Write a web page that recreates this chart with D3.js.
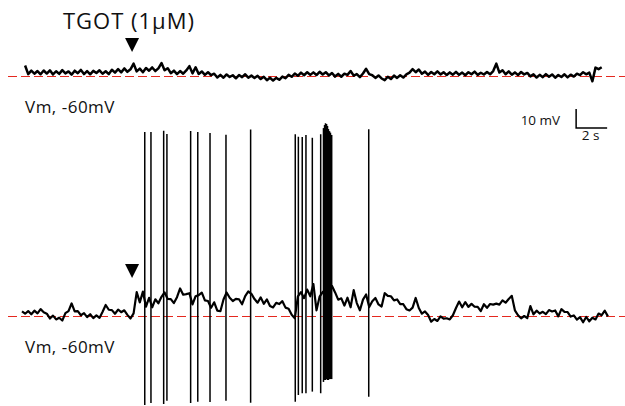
<!DOCTYPE html>
<html>
<head>
<meta charset="utf-8">
<script src="https://cdn.jsdelivr.net/npm/d3@7"></script>
<style>
  html, body { margin: 0; padding: 0; background: #fff; }
  #svg-container { width: 625px; height: 406px; }
  text { font-family: "Open Sans", "DejaVu Sans", sans-serif; fill: #111; }
</style>
</head>
<body>
<div id="svg-container"></div>
<script>
////////////////////////////////////////////////////////////////////
////////////////////////////  Data  ////////////////////////////////
const restVm = -60; // mV, red dashed reference
const dt = 0.2; // s between samples

// top trace (control): deviation from -60 mV, first sample at 0.2 s
const topStart = 0.2;
const topDev = [
  5.5, 1.0, 2.8, 1.2, 2.6, 0.9, 2.9, 1.3, 3.0, 0.8,
  2.5, 1.1, 3.1, 1.4, 2.4, 0.7, 2.8, 1.5, 3.2, 1.0,
  2.6, 0.9, 2.7, 1.6, 3.0, 1.2, 2.5, 1.0, 3.3, 1.8,
  3.6, 1.9, 4.0, 2.2, 3.5, 6.5, 2.4, 3.9, 2.0, 4.2,
  2.8, 4.5, 2.6, 4.0, 6.8, 3.0, 4.1, 1.5, 2.8, 1.0,
  2.6, 1.2, 2.9, 5.2, 1.4, 4.6, 1.1, 2.4, 0.6, 2.0,
  0.4, 1.2, -0.8, 0.6, -0.9, 0.8, -0.5, 0.4, -1.2, 0.5,
  -0.6, 0.9, -0.9, 0.2, -1.0, 0.1, -1.6, -0.4, -2.2, -0.9,
  -2.4, -1.0, -2.0, -0.3, -1.2, 0.6, -0.4, 1.3, 0.1, 1.8,
  0.4, 2.0, 0.6, 1.9, 0.5, 2.2, 0.8, 2.0, 0.3, 1.6,
  -0.3, 1.1, -0.4, 1.2, 0.6, 2.6, 0.2, 1.0, -0.6, 1.3,
  3.8, 1.0, 0.4, -1.0, 0.3, -1.3, -2.2, -0.4, -1.6, 0.2,
  -1.0, 0.4, -0.8, 0.9, 1.8, 3.6, 2.0, 3.4, 1.2, 2.3,
  0.6, 2.1, 0.9, 2.4, 0.8, 2.0, 0.5, 1.9, 0.7, 2.2,
  0.6, 1.8, 0.4, 2.0, 0.9, 2.3, 0.6, 1.7, 0.8, 2.1,
  0.9, 2.6, 6.5, 1.8, 3.0, 0.9, 2.4, 0.7, 1.9, 0.5,
  2.1, 0.8, 1.6, -0.2, 0.9, -0.8, 0.6, -0.6, 1.0, -0.4,
  0.8, -0.9, 0.5, -0.5, 0.9, -0.7, 0.7, -0.3, 1.2, 0.5,
  2.0, 0.9, 1.8, -2.8, 4.4, 3.6, 4.6
];

// bottom trace (TGOT): subthreshold deviation from -60 mV, first sample at 0 s
const botStart = 0;
const botDev = [
  2.4, 1.2, 2.6, 0.9, 2.8, 1.4, 3.6, 2.0, 1.2, -1.3,
  0.2, -1.8, -0.9, -2.4, 1.5, 2.6, 6.6, 2.4, 2.6, 0.4,
  1.5, -0.6, 0.9, -1.1, 0.3, -1.0, 2.2, 5.8, 3.3, 3.1,
  1.2, 3.4, 2.0, 3.0, 0.6, -1.3, 1.4, 12.6, 7.2, 12.8,
  4.9, 9.6, 4.6, 8.8, 6.7, 10.1, 12.4, 9.0, 8.9, 6.8,
  9.9, 14.5, 11.2, 11.5, 12.0, 6.1, 10.4, 11.0, 12.3, 8.2,
  7.9, 4.3, 7.2, 2.8, 2.5, 8.7, 12.4, 9.6, 7.9, 9.0,
  8.8, 6.2, 10.5, 12.9, 11.7, 8.9, 7.0, 9.8, 6.4, 8.7,
  5.3, 4.5, 6.9, 6.3, 7.8, 4.4, 3.8, 0.6, -1.2, 10.3,
  12.6, 9.4, 13.9, 10.4, 16.8, 3.0, 10.2, 12.6, 13.5, 11.8,
  15.8, 12.4, 8.6, 9.3, 5.5, 9.6, 4.6, 13.6, 6.8, 3.0,
  8.6, 11.3, 4.7, 7.8, 9.5, 6.1, 5.0, 12.0, 10.6, 10.4,
  8.2, 8.7, 6.3, 6.2, 3.6, 2.9, 4.4, 9.5, 4.2, 1.2,
  2.4, 0.5, -3.0, -1.6, -2.6, -0.2, -1.4, -1.2, -1.8, 0.4,
  4.2, 7.6, 4.6, 7.3, 4.8, 6.4, 4.9, 4.8, 2.6, 6.2,
  4.3, 6.3, 6.0, 6.5, 6.0, 8.2, 7.0, 8.9, 10.6, 3.0,
  0.4, -1.2, 0.0, -1.1, 5.2, 0.9, 2.8, 1.3, 2.2, 1.0,
  3.1, 2.4, 2.9, -0.2, 3.6, 2.2, 2.1, -0.3, 0.3, -1.9,
  -0.6, -3.3, -0.5, -2.8, -0.9, -1.8, 1.3, 0.4, 2.8, -0.2
];

// action potentials in the bottom trace: time (s), peak and trough (mV)
const spikeTimes = [
  7.92, 8.32, 9.14, 9.35, 10.88, 11.34, 12.13, 13.16, 14.75,
  17.63, 17.83, 18.08, 18.32, 18.73, 19.27,
  19.45, 19.52, 19.58, 19.65, 19.71, 19.77, 19.84, 19.90,
  19.98, 22.37
];
const spikePeaks = [
  36.8, 36.8, 37.5, 35.8, 37.4, 36.8, 36.3, 35.4, 38.1,
  35.6, 34.4, 34.2, 35.3, 33.8, 35.6,
  38.9, 40.5, 41.4, 41.1, 40.0, 38.4, 37.3, 36.5,
  35.3, 38.3
];
const spikeTroughs = [
  -106.8, -105.8, -106.3, -104.6, -105.8, -105.1, -105.3, -104.6, -105.6,
  -105.1, -101.6, -100.7, -100.7, -99.8, -100.7,
  -94.7, -93.7, -93.7, -93.2, -93.7, -93.7, -93.2, -93.2,
  -93.2, -102.5
];

const drugTime = 7.1; // s, TGOT application arrow
const scaleBarMv = 10;
const scaleBarS = 2;

////////////////////////////////////////////////////////////////////
////////////////////////////  Init  ////////////////////////////////
const svg = d3.select("#svg-container").append("svg")
  .attr("width", 625).attr("height", 406);

// scales: 2 s = 31 px, 10 mV = 19 px
const x = d3.scaleLinear().domain([0, 2]).range([22, 53]);
const yTop = d3.scaleLinear().domain([-60, -50]).range([76, 57]);
const yBot = d3.scaleLinear().domain([-60, -50]).range([316, 297]);

const traceLine = (yScale) => d3.line()
  .x((d) => x(d.t))
  .y((d) => yScale(d.v));

const toPoints = (devs, start) =>
  devs.map((d, i) => ({ t: start + i * dt, v: restVm + d }));

////////////////////////////////////////////////////////////////////
////////////////////////////  Draw  ////////////////////////////////
// reference lines at -60 mV (half pixel offset keeps them crisp)
[yTop, yBot].forEach((ys) => {
  svg.append("line")
    .attr("x1", 8).attr("x2", 625)
    .attr("y1", ys(restVm) + 0.5).attr("y2", ys(restVm) + 0.5)
    .attr("stroke", "#e5281f")
    .attr("stroke-width", 1)
    .attr("stroke-dasharray", "9,4");
});

// traces
svg.append("path")
  .datum(toPoints(topDev, topStart))
  .attr("d", traceLine(yTop))
  .attr("fill", "none")
  .attr("stroke", "#000")
  .attr("stroke-width", 2.5)
  .attr("stroke-linejoin", "round");

svg.append("path")
  .datum(toPoints(botDev, botStart))
  .attr("d", traceLine(yBot))
  .attr("fill", "none")
  .attr("stroke", "#000")
  .attr("stroke-width", 2.2)
  .attr("stroke-linejoin", "round");

// spikes
svg.selectAll(".spike")
  .data(spikeTimes)
  .enter()
  .append("line")
  .attr("class", "spike")
  .attr("x1", (d) => x(d)).attr("x2", (d) => x(d))
  .attr("y1", (d, i) => yBot(spikePeaks[i]))
  .attr("y2", (d, i) => yBot(spikeTroughs[i]))
  .attr("stroke", "#000")
  .attr("stroke-width", 1.5);

// drug arrows
const tri = (cx, top) => `M${cx - 7},${top} L${cx + 7},${top} L${cx},${top + 14} Z`;
svg.append("path").attr("d", tri(x(drugTime), 38)).attr("fill", "#000");
svg.append("path").attr("d", tri(x(drugTime), 264)).attr("fill", "#000");

// labels
svg.append("text")
  .attr("x", 63).attr("y", 29)
  .style("font-size", "22px")
  .style("letter-spacing", "1px")
  .text("TGOT (1μM)");

svg.append("text")
  .attr("x", 25).attr("y", 113)
  .style("font-size", "17px")
  .style("letter-spacing", "0.5px")
  .text("Vm, -60mV");

svg.append("text")
  .attr("x", 25).attr("y", 353)
  .style("font-size", "17px")
  .style("letter-spacing", "0.5px")
  .text("Vm, -60mV");

// scale bar
const sbX = x(35.75), sbY = yTop(-60) + 52;
const sbW = x(scaleBarS) - x(0);
const sbH = yBot(-60) - yBot(-60 + scaleBarMv);
const sbG = svg.append("g");
sbG.append("path")
  .attr("d", `M${sbX},${sbY - sbH} L${sbX},${sbY} L${sbX + sbW},${sbY}`)
  .attr("fill", "none")
  .attr("stroke", "#000")
  .attr("stroke-width", 1.5);
sbG.append("text")
  .attr("x", sbX - 16).attr("y", sbY - 3)
  .attr("text-anchor", "end")
  .style("font-size", "13.5px")
  .text(scaleBarMv + " mV");
sbG.append("text")
  .attr("x", sbX + sbW / 2 - 1).attr("y", sbY + 12)
  .attr("text-anchor", "middle")
  .style("font-size", "13.5px")
  .text(scaleBarS + " s");
</script>
</body>
</html>
